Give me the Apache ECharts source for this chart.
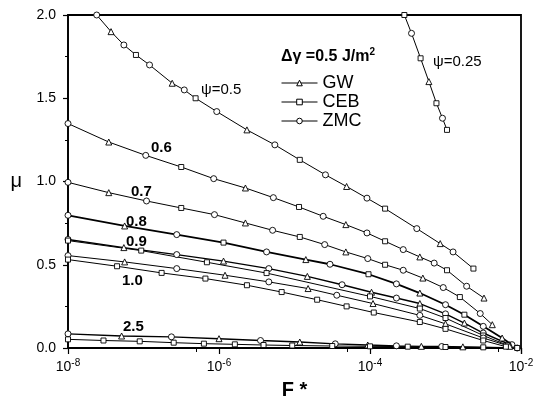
<!DOCTYPE html>
<html>
<head>
<meta charset="utf-8">
<script src="https://cdn.jsdelivr.net/npm/echarts@6/dist/echarts.min.js"></script>
<style>
  html, body { margin: 0; padding: 0; background: #fff; }
  #chart { width: 535px; height: 401px; }
</style>
</head>
<body>
<div id="chart"></div>
<script>
// points: [log10(F*), mu]
const psi025 = [[-3.545, 2.0], [-3.45, 1.89], [-3.33, 1.74], [-3.22, 1.60], [-3.12, 1.47], [-3.04, 1.38], [-2.98, 1.31]];
const psi05 = [[-7.62, 2.0], [-7.43, 1.90], [-7.26, 1.82], [-7.10, 1.76], [-6.92, 1.70], [-6.62, 1.59], [-6.46, 1.55], [-6.31, 1.50],
  [-6.03, 1.42], [-5.63, 1.31], [-5.26, 1.22], [-4.93, 1.13], [-4.59, 1.04], [-4.31, 0.97], [-4.04, 0.90], [-3.80, 0.837],
  [-3.38, 0.717], [-3.07, 0.627], [-2.90, 0.577], [-2.63, 0.477]];
const psi06 = [[-8, 1.348], [-7.46, 1.237], [-6.97, 1.157], [-6.50, 1.087], [-6.07, 1.017], [-5.65, 0.961], [-5.28, 0.903],
  [-4.94, 0.847], [-4.62, 0.791], [-4.32, 0.741], [-4.04, 0.691], [-3.80, 0.641], [-3.56, 0.591], [-3.34, 0.547],
  [-3.15, 0.51], [-2.98, 0.467], [-2.72, 0.371], [-2.49, 0.30]];
const psi07 = [[-8, 0.995], [-7.46, 0.933], [-6.96, 0.883], [-6.50, 0.841], [-6.06, 0.801], [-5.65, 0.751], [-5.29, 0.707],
  [-4.93, 0.667], [-4.60, 0.621], [-4.32, 0.577], [-4.03, 0.537], [-3.80, 0.50], [-3.56, 0.467], [-3.30, 0.42],
  [-3.03, 0.363], [-2.81, 0.306], [-2.54, 0.207], [-2.38, 0.14]];
const psi08 = [[-8, 0.797], [-7.25, 0.733], [-6.56, 0.681], [-5.94, 0.633], [-5.37, 0.577], [-4.85, 0.531], [-4.53, 0.503],
  [-4.02, 0.443], [-3.65, 0.385], [-3.34, 0.33], [-3.0, 0.26], [-2.75, 0.2], [-2.5, 0.13], [-2.25, 0.06], [-2.12, 0.02]];
// 0.9, 1.0 and 2.5: GW/ZMC line and the lower CEB line
const psi09 = [[-8, 0.652], [-7.26, 0.603], [-6.56, 0.561], [-5.94, 0.522], [-5.34, 0.477], [-4.83, 0.43], [-4.37, 0.38],
  [-3.98, 0.335], [-3.65, 0.30], [-3.34, 0.267], [-3.0, 0.205], [-2.75, 0.15], [-2.5, 0.09], [-2.15, 0.02]];
const psi09ceb = [[-8, 0.645], [-7.03, 0.585], [-6.16, 0.515], [-5.37, 0.45], [-4.0, 0.31], [-3.34, 0.237], [-3.0, 0.18],
  [-2.5, 0.075], [-2.17, 0.015]];
const psi10 = [[-8, 0.555], [-7.25, 0.517], [-6.56, 0.477], [-5.92, 0.437], [-5.34, 0.397], [-4.82, 0.357], [-4.44, 0.317],
  [-3.96, 0.267], [-3.34, 0.196], [-3.0, 0.145], [-2.5, 0.06], [-2.15, 0.01]];
const psi10ceb = [[-8, 0.531], [-7.35, 0.491], [-6.76, 0.451], [-6.18, 0.417], [-5.63, 0.377], [-5.17, 0.336], [-4.70, 0.29],
  [-4.31, 0.25], [-3.95, 0.213], [-3.34, 0.156], [-3.0, 0.115], [-2.5, 0.045], [-2.2, 0.008]];
const psi25 = [[-8, 0.085], [-7.29, 0.072], [-6.63, 0.067], [-6.0, 0.056], [-5.45, 0.045], [-4.93, 0.036], [-4.46, 0.025],
  [-4.03, 0.018], [-3.65, 0.013], [-3.32, 0.01], [-3.05, 0.009], [-2.77, 0.007], [-2.05, 0.0]];
const psi25ceb = [[-8, 0.052], [-7.53, 0.045], [-7.05, 0.040], [-6.6, 0.032], [-6.2, 0.026], [-5.79, 0.022], [-5.41, 0.018],
  [-5.03, 0.015], [-4.5, 0.012], [-4.0, 0.010], [-3.5, 0.008], [-3.0, 0.006], [-2.5, 0.004], [-2.05, 0.0]];

const models = ['GW', 'CEB', 'ZMC'];
const modelSymbols = ['triangle', 'rect', 'circle'];
const curveLabels = ['0.6', '0.7', '0.8', '0.9', '1.0', '2.5'];

const FONT = '"Liberation Sans", Arial, sans-serif';
const sizes = {circle: 6, triangle: 6, rect: 5};

function curve(points, marks, width) {
  return {
    type: 'line',
    silent: true,
    showAllSymbol: true,
    animation: false,
    data: points.map((p, i) => {
      const s = marks[i % marks.length];
      return {value: [Math.pow(10, p[0]), p[1]], symbol: s, symbolSize: sizes[s]};
    }),
    lineStyle: {color: '#000', width: width || 1},
    itemStyle: {color: '#fff', borderColor: '#000', borderWidth: 0.9},
    z: 3
  };
}

const mixed = ['circle', 'triangle', 'circle', 'rect'];
const upper = ['circle', 'triangle'];
const lower = ['rect'];

const series = [
  curve(psi025, ['rect', 'circle', 'rect', 'triangle']),
  curve(psi05, mixed),
  curve(psi06, mixed),
  curve(psi07, mixed),
  curve(psi08, mixed, 1.8),
  curve(psi09, upper, 1.4),
  curve(psi09ceb, lower),
  curve(psi10, upper),
  curve(psi10ceb, lower),
  curve(psi25, upper, 1.4),
  curve(psi25ceb, lower)
];
// legend entries only
models.forEach((m, i) => {
  series.push({
    name: m, type: 'line', data: [], symbol: modelSymbols[i], symbolSize: 6,
    lineStyle: {color: '#000', width: 1},
    itemStyle: {color: '#fff', borderColor: '#000', borderWidth: 1}
  });
});

const labelPos = [[151, 148], [131, 192], [126, 222], [126, 242], [122, 281], [123, 327]];
const graphic = curveLabels.map((t, i) => ({
  type: 'text', x: labelPos[i][0], y: labelPos[i][1], z: 10,
  style: {text: t, font: 'bold 15px ' + FONT, fill: '#000', verticalAlign: 'middle'}
}));
graphic.push({type: 'text', x: 201, y: 90, z: 10,
  style: {text: 'ψ=0.5', font: '15px ' + FONT, fill: '#000', verticalAlign: 'middle'}});
graphic.push({type: 'text', x: 433, y: 62, z: 10,
  style: {text: 'ψ=0.25', font: '15px ' + FONT, fill: '#000', verticalAlign: 'middle'}});

const chart = echarts.init(document.getElementById('chart'));
const option = {
  backgroundColor: '#fff',
  animation: false,
  title: {
    text: '{a|Δγ =0.5 J/m}{s|2}',
    left: 276, top: 42,
    textStyle: {
      rich: {
        a: {fontSize: 16, fontWeight: 'bold', fontFamily: FONT, color: '#000'},
        s: {fontSize: 10, fontWeight: 'bold', fontFamily: FONT, color: '#000', padding: [0, 0, 9, 0]}
      }
    }
  },
  legend: {
    data: models,
    orient: 'vertical',
    left: 276, top: 69,
    itemWidth: 36, itemHeight: 7, itemGap: 1,
    selectedMode: false,
    itemStyle: {color: '#fff', borderColor: '#000', borderWidth: 1},
    lineStyle: {color: '#000', width: 1},
    textStyle: {fontSize: 18, fontFamily: FONT, color: '#000'}
  },
  grid: {
    left: 68, right: 14, top: 15, bottom: 53,
    outerBoundsMode: 'none',
    show: true, borderColor: '#000', borderWidth: 1.8
  },
  xAxis: {
    type: 'log', logBase: 10, min: 1e-8, max: 1e-2, interval: 2,
    name: 'F *', nameLocation: 'middle', nameGap: 32,
    nameTextStyle: {fontSize: 20, fontWeight: 'bold', fontFamily: FONT, color: '#000'},
    axisLine: {lineStyle: {color: '#000', width: 1.5}},
    axisTick: {length: 6, lineStyle: {color: '#000', width: 1.2}},
    minorTick: {show: true, splitNumber: 2, length: 4, lineStyle: {color: '#000', width: 1}},
    splitLine: {show: false},
    axisLabel: {
      margin: 10,
      formatter: v => '{b|10}{s|' + Math.round(Math.log10(v)) + '}',
      rich: {
        b: {fontSize: 14, fontFamily: FONT, color: '#000'},
        s: {fontSize: 10, fontFamily: FONT, color: '#000', padding: [0, 0, 9, 0]}
      }
    }
  },
  yAxis: {
    type: 'value', min: 0, max: 2, interval: 0.5,
    name: 'μ', nameLocation: 'middle', nameRotate: 0, nameGap: 46,
    nameTextStyle: {fontSize: 20, fontFamily: FONT, color: '#000', padding: [12, 0, 0, 0]},
    axisLine: {lineStyle: {color: '#000', width: 1.5}},
    axisTick: {length: 5, lineStyle: {color: '#000', width: 1.2}},
    minorTick: {show: true, splitNumber: 2, length: 3, lineStyle: {color: '#000', width: 1}},
    splitLine: {show: false},
    axisLabel: {
      margin: 12, fontSize: 14, fontFamily: FONT, color: '#000',
      formatter: v => v.toFixed(1)
    }
  },
  series: series,
  graphic: graphic
};
chart.setOption(option);
</script>
</body>
</html>
